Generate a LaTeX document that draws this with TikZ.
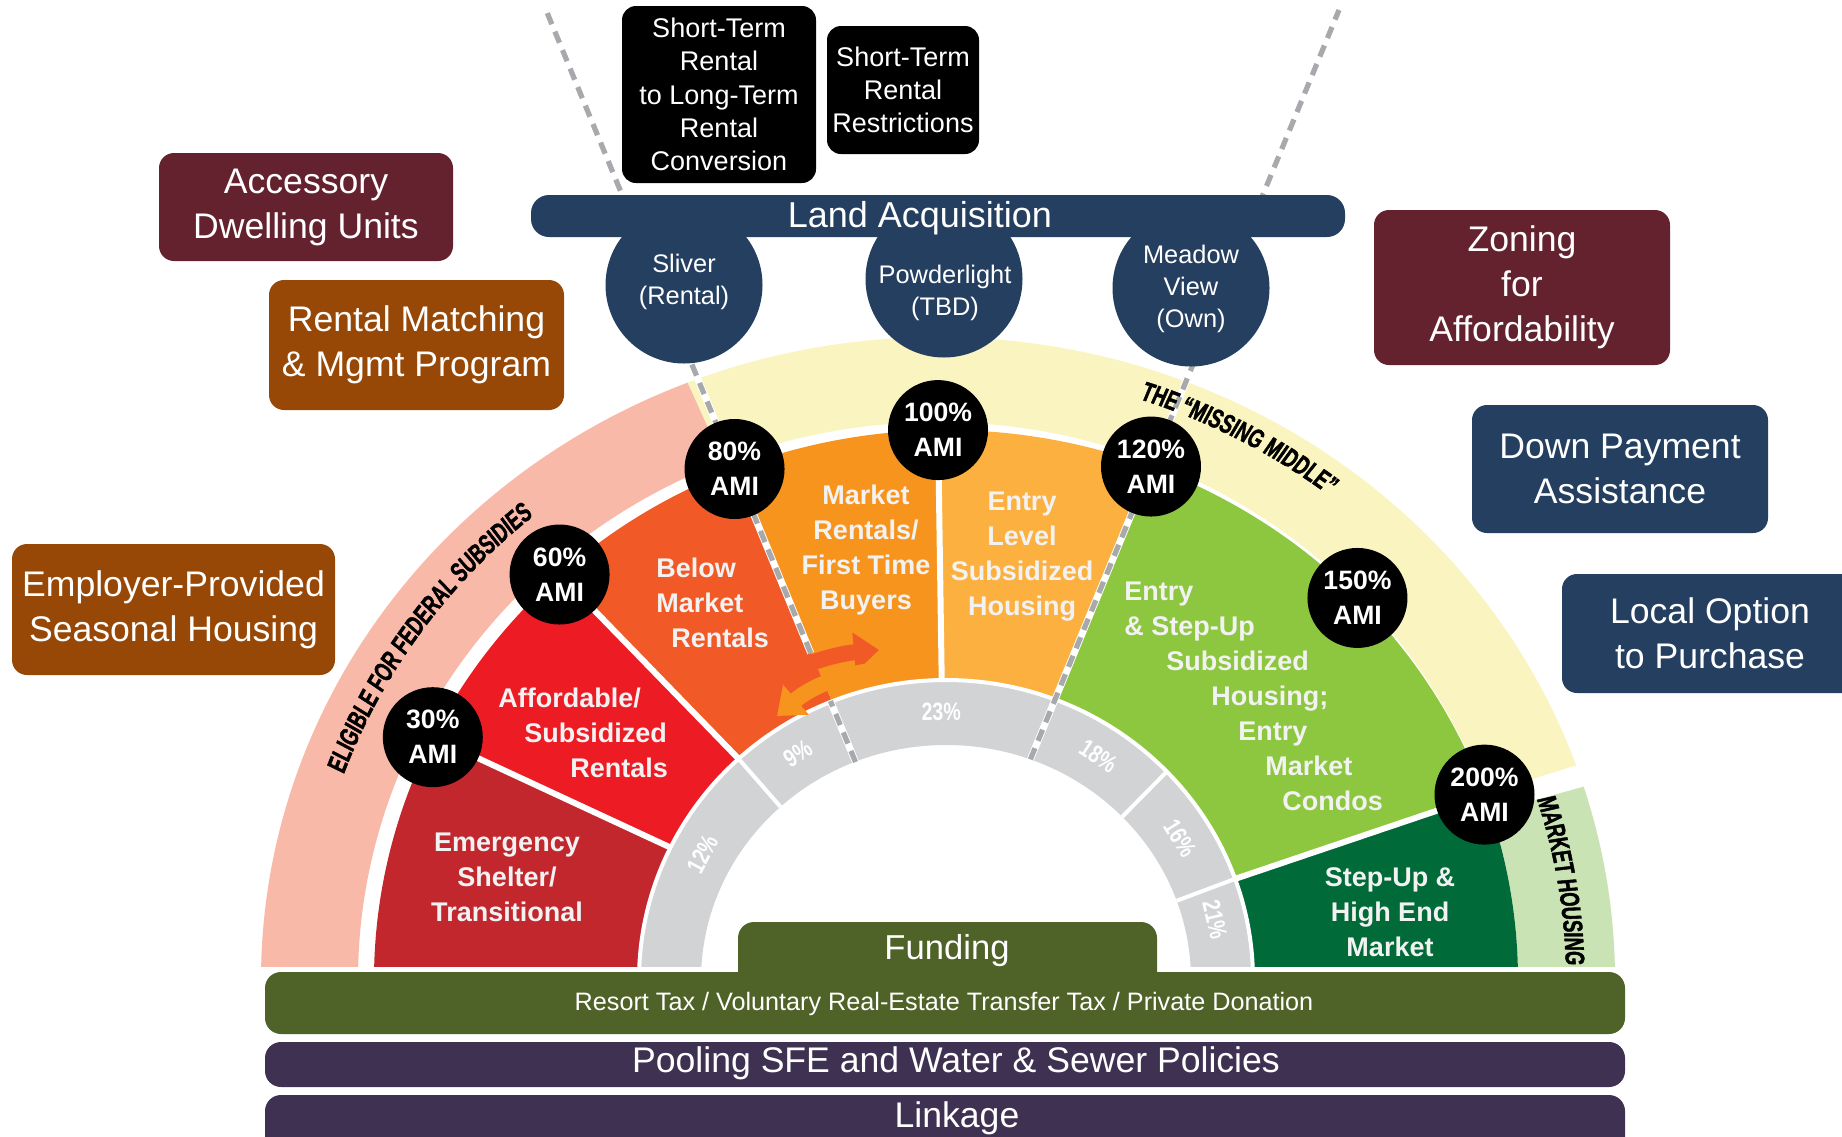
\documentclass[tikz,border=0pt]{standalone}
\usepackage{fontspec}
\setmainfont{Liberation Sans}
\newfontfamily\bandfont{Liberation Sans Bold}[FakeStretch=0.68,FakeSlant=0.08,FakeBold=1.5]
\newfontfamily\pctfont{Liberation Sans Bold}[FakeStretch=0.78]
\usetikzlibrary{arrows.meta,decorations.text}

\definecolor{boxmaroon}{HTML}{63222E}
\definecolor{boxbrown}{HTML}{974806}
\definecolor{boxnavy}{HTML}{243F60}
\definecolor{barolive}{HTML}{4F6228}
\definecolor{barpurple}{HTML}{3F3151}
\definecolor{bandpink}{HTML}{F9B9A8}
\definecolor{bandyellow}{HTML}{FAF5C0}
\definecolor{bandgreen}{HTML}{C9E3B4}
\definecolor{secdarkred}{HTML}{C1272D}
\definecolor{secred}{HTML}{ED1C24}
\definecolor{secorangered}{HTML}{F15A27}
\definecolor{secorange}{HTML}{F7941E}
\definecolor{seclightorange}{HTML}{FBB040}
\definecolor{secgreen}{HTML}{8DC63F}
\definecolor{secdarkgreen}{HTML}{006A38}
\definecolor{ringgray}{HTML}{D1D3D4}
\definecolor{dashgray}{HTML}{A7A9AC}
\definecolor{labelwhite}{HTML}{F2F2F2}

% filled piece of an elliptic ring: colour, start, end, outer rx, outer ry, inner rx, inner ry
\newcommand\ringsector[7]{%
  \fill[#1] (#2:#4 and #5) arc[start angle=#2, end angle=#3, x radius=#4, y radius=#5]
    -- (#3:#6 and #7) arc[start angle=#3, end angle=#2, x radius=#6, y radius=#7] -- cycle;}

\tikzset{
  sidebox/.style={rectangle, rounded corners=7.5pt, inner sep=0pt, text=white, align=center,
    font=\fontsize{17.8}{22.5}\selectfont},
  blackbox/.style={rectangle, rounded corners=7pt, fill=black, inner sep=0pt, text=white,
    align=center, font=\fontsize{13.5}{16.6}\selectfont},
  sitecircle/.style={circle, fill=boxnavy, minimum size=78.5pt, inner sep=0pt},
  sitelabel/.style={text=white, align=center, inner sep=0pt, font=\fontsize{12.7}{15.9}\selectfont},
  amicircle/.style={circle, fill=black, minimum size=50pt, inner sep=0pt, text=white,
    align=center, font=\bfseries\fontsize{13.3}{17.5}\selectfont},
  seclabel/.style={text=labelwhite, align=center, inner sep=0pt,
    font=\bfseries\fontsize{13.5}{17.5}\selectfont},
  pctlabel/.style={text=white, inner sep=0pt, font=\pctfont\fontsize{12.5}{13}\selectfont},
  widebar/.style={rectangle, rounded corners=8pt, inner sep=0pt, minimum width=680pt},
  bartext/.style={text=white, inner sep=0pt},
  sepline/.style={white, line width=3pt},
  ringsep/.style={white, line width=2pt},
  dashbase/.style={white, line width=3.5pt},
  dashtop/.style={dashgray, line width=2.6pt, dash pattern=on 6pt off 4pt},
  swaparrow/.style={line width=8pt, -{Triangle[length=12.5pt,width=19pt]}},
  arctext/.style={decorate, decoration={text along path, text align=center,
    text={|\bandfont\fontsize{13.5}{13.5}\selectfont|#1}}},
}

\begin{document}
\begin{tikzpicture}[x=0.5pt, y=-0.5pt]
\fill[white] (0,0) rectangle (1842,1136);
\useasboundingbox (0,0) rectangle (1842,1136);
\clip (0,0) rectangle (1842,1136);

% ---------------- the income rainbow ----------------
\begin{scope}[shift={(946,980)}, y=0.5pt]
  \clip (-1000,14) rectangle (1000,1000);
  % outer eligibility bands (centred a little to the left)
  \begin{scope}[xshift=-4pt]
    \ringsector{bandpink}{111.7}{180}{677}{643}{580}{558}
    \ringsector{bandyellow}{19.5}{111.7}{677}{643}{580}{558}
    \ringsector{bandgreen}{0}{17.5}{677}{643}{580}{558}
  \end{scope}
  % housing types
  \ringsector{secdarkred}{153.8}{180}{572}{550}{307}{300}
  \ringsector{secred}{132.5}{153.8}{572}{550}{307}{300}
  \ringsector{secorangered}{111.8}{132.5}{572}{550}{307}{300}
  \ringsector{secorange}{90.8}{111.8}{572}{550}{307}{300}
  \ringsector{seclightorange}{69}{90.8}{572}{550}{307}{300}
  \ringsector{secgreen}{19.7}{69}{572}{550}{307}{300}
  \ringsector{secdarkgreen}{0}{19.7}{572}{550}{307}{300}
  % household share ring
  \ringsector{ringgray}{0}{180}{307}{300}{245}{235}
  \draw[white, line width=2pt] (0:307 and 300) arc[start angle=0, end angle=180, x radius=307, y radius=300];
  % solid dividers
  \foreach \ang in {153.8,132.5,90.8,19.7}
    \draw[sepline] (\ang:307 and 300) -- (\ang:572 and 550);
  \foreach \ang in {132.5,44,19.7}
    \draw[ringsep] (\ang:245 and 235) -- (\ang:307 and 300);
  % dashed dividers
  \coordinate (ldA) at (-90.5,218);
  \coordinate (ldB) at (-115.6,279);
  \coordinate (ldC) at (-135.3,327);
  \coordinate (ldD) at (-400,970);
  \coordinate (rdA) at (84.4,220.7);
  \coordinate (rdB) at (393,970);
  \draw[dashbase] (ldA) -- (ldB) (ldC) -- (ldD) (rdA) -- (rdB);
  \draw[dashtop] (ldA) -- (ldB) (ldC) -- (ldD) (rdA) -- (rdB);
  % shares
  \node[pctlabel, rotate=62]    (p12) at (152:276 and 268) {12\%};
  \node[pctlabel, rotate=32.5]  (p9)  at (122.5:276 and 268) {9\%};
  \node[pctlabel, rotate=1]     (p23) at (91:276 and 268) {23\%};
  \node[pctlabel, rotate=-33.5] (p18) at (56.5:276 and 268) {18\%};
  \node[pctlabel, rotate=-58]   (p16) at (32:276 and 268) {16\%};
  \node[pctlabel, rotate=-77]   (p21) at (13:276 and 268) {21\%};
  % band captions
  \begin{scope}[xshift=-4pt]
    \path[arctext={ELIGIBLE FOR FEDERAL SUBSIDIES}]
      (163:632 and 604) arc[start angle=163, end angle=127, x radius=632, y radius=604];
    \path[arctext={THE “MISSING MIDDLE”}]
      (76:640 and 612) arc[start angle=76, end angle=48, x radius=640, y radius=612];
    \path[arctext={MARKET HOUSING}]
      (19:628 and 600) arc[start angle=19, end angle=0, x radius=628, y radius=600];
  \end{scope}
  % income thresholds
  \node[amicircle] (ami30)  at (153.8:572 and 550) {30\%\\AMI};
  \node[amicircle] (ami60)  at (132.5:572 and 550) {60\%\\AMI};
  \node[amicircle] (ami80)  at (111.7:572 and 550) {80\%\\AMI};
  \node[amicircle] (ami100) at (90.8:572 and 550) {100\%\\AMI};
  \node[amicircle] (ami120) at (69:572 and 550) {120\%\\AMI};
  \node[amicircle] (ami150) at (44:572 and 550) {150\%\\AMI};
  \node[amicircle] (ami200) at (19.7:572 and 550) {200\%\\AMI};
\end{scope}

% swap arrows between rental and ownership
\draw[swaparrow, secorangered] (806,665) .. controls (826,657) and (846,653) .. (879,650);
\draw[swaparrow, secorange] (870,671) .. controls (842,675) and (812,686) .. (777,716);

% sector captions
\node[seclabel] (lblemergency) at (507,877) {Emergency\\Shelter/\\Transitional};
\node[seclabel, align=left, anchor=west] (lblaffordable) at (498,733)
  {Affordable/\\\hspace*{13pt}Subsidized\\\hspace*{36pt}Rentals};
\node[seclabel, align=left, anchor=west] (lblbelow) at (656,603)
  {Below\\Market\\\hspace*{7.5pt}Rentals};
\node[seclabel] (lblmarket) at (866,550) {Market\\Rentals/\\First Time\\Buyers};
\node[seclabel] (lblentry) at (1022,557) {Entry\\Level\\Subsidized\\Housing};
\node[seclabel, align=left, anchor=west] (lblstepup) at (1124,696)
  {Entry\\\& Step-Up\\\hspace*{21pt}Subsidized\\\hspace*{43.5pt}Housing;\\\hspace*{57pt}Entry\\\hspace*{70.5pt}Market\\\hspace*{79pt}Condos};
\node[seclabel] (lblhighend) at (1390,912) {Step-Up \&\\High End\\Market};

% land sites and acquisition bar
\node[sitecircle] (sliver) at (684,285) {};
\node[sitecircle] (powder) at (944,279) {};
\node[sitecircle] (meadow) at (1191,288) {};
\node[sitelabel] (slivertxt) at (684,282) {Sliver\\(Rental)};
\node[sitelabel] (powdertxt) at (945,293) {Powderlight\\(TBD)};
\node[sitelabel] (meadowtxt) at (1191,289) {Meadow\\View\\(Own)};
\node[rectangle, rounded corners=9pt, fill=boxnavy, minimum width=407pt, minimum height=21pt, inner sep=0pt]
  (landbar) at (938,216) {};
\node[bartext, font=\fontsize{18}{18}\selectfont] (landtxt) at (920,218) {Land Acquisition};

% short-term rental tools
\node[blackbox, minimum width=97pt, minimum height=88.5pt] (strconv) at (719,94.5)
  {Short-Term\\Rental\\to Long-Term\\Rental\\Conversion};
\node[blackbox, minimum width=76pt, minimum height=64pt] (strrestr) at (903,90)
  {Short-Term\\Rental\\Restrictions};

% policy tools
\node[sidebox, fill=boxmaroon, minimum width=147pt, minimum height=54pt] (adu) at (306,207)
  {Accessory\\Dwelling Units};
\node[sidebox, fill=boxbrown, minimum width=147.5pt, minimum height=65pt] (rentalmatch) at (416.5,345)
  {Rental Matching\\\& Mgmt Program};
\node[sidebox, fill=boxbrown, minimum width=161.5pt, minimum height=65.5pt] (employer) at (173.5,609.5)
  {Employer-Provided\\Seasonal Housing};
\node[sidebox, fill=boxmaroon, minimum width=148pt, minimum height=77.5pt] (zoning) at (1522,287.5)
  {Zoning\\for\\Affordability};
\node[sidebox, fill=boxnavy, minimum width=148pt, minimum height=64pt] (downpay) at (1620,469)
  {Down Payment\\Assistance};
\node[sidebox, fill=boxnavy, minimum width=148pt, minimum height=59.5pt] (localopt) at (1710,633.5)
  {Local Option\\to Purchase};

% funding and policy bars
\node[rectangle, rounded corners=8pt, fill=barolive, minimum width=209.5pt, minimum height=36pt, inner sep=0pt]
  (fundtab) at (947.5,958) {};
\node[widebar, fill=barolive, minimum height=31pt] (fundbar) at (945,1003) {};
\node[bartext, font=\fontsize{17.3}{17.3}\selectfont] (fundtxt) at (947,951) {Funding};
\node[bartext, font=\fontsize{12.6}{12.6}\selectfont] (fundsrc) at (944,1004)
  {Resort Tax / Voluntary Real-Estate Transfer Tax / Private Donation};
\node[widebar, fill=barpurple, minimum height=22.5pt] (poolbar) at (945,1064.5) {};
\node[bartext, font=\fontsize{17.8}{17.8}\selectfont] (pooltxt) at (956,1063)
  {Pooling SFE and Water \& Sewer Policies};
\node[widebar, fill=barpurple, minimum height=32.5pt] (linkbar) at (945,1127.5) {};
\node[bartext, font=\fontsize{17.8}{17.8}\selectfont] (linktxt) at (957,1118) {Linkage};
\end{tikzpicture}
\end{document}
